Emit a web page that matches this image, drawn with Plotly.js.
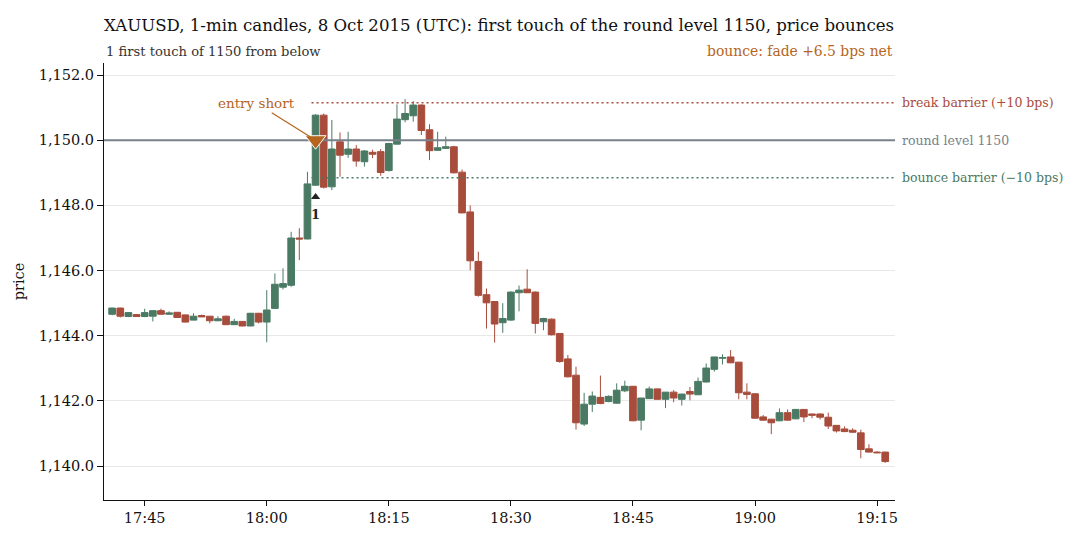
<!DOCTYPE html>
<html>
<head>
<meta charset="utf-8">
<script src="https://cdn.plot.ly/plotly-3.0.1.min.js"></script>
<style>
  html, body { margin: 0; padding: 0; background: #fff; }
  #chart { width: 1080px; height: 540px; }
</style>
</head>
<body>
<div id="chart"></div>
<script>
// 1-min candles, 8 Oct 2015
const day = '2015-10-08 ';
const times = [
  '17:41','17:42','17:43','17:44','17:45','17:46','17:47','17:48','17:49','17:50',
  '17:51','17:52','17:53','17:54','17:55','17:56','17:57','17:58','17:59','18:00',
  '18:01','18:02','18:03','18:04','18:05','18:06','18:07','18:08','18:09','18:10',
  '18:11','18:12','18:13','18:14','18:15','18:16','18:17','18:18','18:19','18:20',
  '18:21','18:22','18:23','18:24','18:25','18:26','18:27','18:28','18:29','18:30',
  '18:31','18:32','18:33','18:34','18:35','18:36','18:37','18:38','18:39','18:40',
  '18:41','18:42','18:43','18:44','18:45','18:46','18:47','18:48','18:49','18:50',
  '18:51','18:52','18:53','18:54','18:55','18:56','18:57','18:58','18:59','19:00',
  '19:01','19:02','19:03','19:04','19:05','19:06','19:07','19:08','19:09','19:10',
  '19:11','19:12','19:13','19:14','19:15','19:16'
];
const open = [
  1144.66,1144.85,1144.59,1144.65,1144.59,1144.60,1144.77,1144.66,1144.72,1144.64,
  1144.48,1144.62,1144.60,1144.46,1144.60,1144.34,1144.44,1144.30,1144.69,1144.42,
  1144.84,1145.49,1145.55,1147.00,1146.97,1148.62,1150.77,1148.57,1149.95,1149.57,
  1149.73,1149.34,1149.63,1149.65,1149.07,1149.88,1150.63,1150.75,1151.08,1150.32,
  1149.69,1149.75,1149.80,1149.02,1147.80,1146.28,1145.26,1145.05,1144.40,1144.48,
  1145.32,1145.43,1145.34,1144.43,1144.51,1144.07,1143.29,1142.79,1141.29,1141.90,
  1142.11,1141.98,1141.93,1142.31,1142.45,1141.41,1142.07,1142.37,1142.05,1142.27,
  1142.05,1142.29,1142.19,1142.58,1142.97,1143.31,1143.35,1143.19,1142.27,1142.22,
  1141.51,1141.44,1141.39,1141.64,1141.45,1141.74,1141.60,1141.60,1141.50,1141.25,
  1141.14,1141.10,1141.02,1140.53,1140.43,1140.43
];
const high = [
  1144.86,1144.86,1144.72,1144.67,1144.83,1144.78,1144.83,1144.75,1144.73,1144.65,
  1144.69,1144.65,1144.61,1144.60,1144.62,1144.52,1144.45,1144.70,1144.70,1145.40,
  1145.91,1146.07,1147.19,1147.30,1149.03,1150.80,1150.82,1150.62,1150.24,1150.26,
  1149.85,1149.70,1149.71,1149.73,1149.92,1151.10,1151.26,1151.20,1151.10,1150.49,
  1150.26,1150.11,1149.83,1149.10,1148.00,1146.58,1145.45,1145.06,1145.00,1145.36,
  1145.54,1146.04,1145.36,1144.55,1144.53,1144.08,1143.41,1143.05,1142.25,1142.29,
  1142.78,1142.17,1142.54,1142.62,1142.46,1142.09,1142.44,1142.38,1142.27,1142.33,
  1142.22,1142.43,1142.72,1143.15,1143.35,1143.43,1143.56,1143.20,1142.54,1142.23,
  1141.57,1141.45,1141.77,1141.74,1141.75,1141.75,1141.61,1141.61,1141.64,1141.26,
  1141.22,1141.16,1141.12,1140.67,1140.46,1140.44
];
const low = [
  1144.63,1144.56,1144.57,1144.58,1144.57,1144.44,1144.65,1144.64,1144.55,1144.41,
  1144.47,1144.57,1144.38,1144.45,1144.33,1144.33,1144.29,1144.29,1144.38,1143.80,
  1144.83,1145.42,1145.50,1146.32,1146.96,1148.60,1148.52,1148.47,1148.88,1149.46,
  1149.19,1149.19,1149.45,1148.91,1149.04,1149.87,1150.55,1150.57,1150.16,1149.39,
  1149.67,1149.73,1148.98,1147.76,1146.01,1145.20,1144.22,1143.79,1144.09,1144.46,
  1144.75,1145.31,1144.07,1144.17,1144.01,1143.17,1142.72,1141.12,1141.23,1141.66,
  1141.90,1141.96,1141.92,1142.27,1141.38,1141.10,1142.06,1142.04,1141.78,1141.96,
  1141.86,1142.02,1142.18,1142.57,1142.90,1143.12,1143.16,1142.05,1142.05,1141.46,
  1141.40,1140.98,1141.38,1141.40,1141.44,1141.35,1141.47,1141.43,1141.14,1141.03,
  1141.04,1141.02,1140.24,1140.42,1140.40,1140.10
];
const close = [
  1144.85,1144.60,1144.71,1144.59,1144.71,1144.77,1144.66,1144.70,1144.56,1144.42,
  1144.60,1144.58,1144.46,1144.52,1144.34,1144.44,1144.30,1144.69,1144.42,1144.79,
  1145.58,1145.60,1147.00,1146.97,1148.66,1150.77,1148.56,1149.73,1149.54,1149.73,
  1149.36,1149.67,1149.57,1149.01,1149.90,1150.65,1150.82,1151.08,1150.30,1149.68,
  1149.77,1149.80,1149.00,1147.77,1146.30,1145.24,1145.01,1144.36,1144.53,1145.34,
  1145.40,1145.32,1144.38,1144.53,1144.03,1143.21,1142.74,1141.33,1141.90,1142.15,
  1141.92,1142.14,1142.33,1142.45,1141.39,1142.09,1142.37,1142.05,1142.27,1142.09,
  1142.21,1142.21,1142.60,1143.01,1143.35,1143.33,1143.17,1142.25,1142.20,1141.47,
  1141.41,1141.33,1141.64,1141.41,1141.74,1141.51,1141.56,1141.50,1141.23,1141.08,
  1141.06,1141.04,1140.51,1140.43,1140.41,1140.14
];

// the event
const roundLevel = 1150;
const barrierBps = 10;
const touchTime = '18:06';
const touchMarkY = 1148.26;
const barrierStart = '18:05:30';
const xStart = '17:40:00';
const xEnd = '19:17:12';

const GREEN = '#4a7a64';
const RED = '#a84c3c';
const GREY = '#78818a';
const ORANGE = '#b5651d';
const FONT = 'DejaVu Serif, serif';

const breakLevel = roundLevel * (1 + barrierBps / 10000);
const bounceLevel = roundLevel * (1 - barrierBps / 10000);
const x = times.map(t => day + t);

const candles = {
  type: 'candlestick',
  x: x, open: open, high: high, low: low, close: close,
  increasing: { line: { color: GREEN, width: 1 }, fillcolor: GREEN },
  decreasing: { line: { color: RED, width: 1 }, fillcolor: RED },
  whiskerwidth: 0,
  hoverinfo: 'skip',
  showlegend: false
};

// round level over the candles, under the entry marker
const roundLine = {
  type: 'scatter', mode: 'lines',
  x: [day + xStart, day + xEnd], y: [roundLevel, roundLevel],
  line: { color: GREY, width: 1.8 },
  hoverinfo: 'skip', showlegend: false
};

const entry = {
  type: 'scatter', mode: 'markers',
  x: [day + touchTime], y: [roundLevel],
  marker: { symbol: 'triangle-down', size: 18, color: ORANGE, line: { color: '#fff', width: 1 } },
  hoverinfo: 'skip', showlegend: false
};

const touchMark = {
  type: 'scatter', mode: 'markers',
  x: [day + touchTime], y: [touchMarkY],
  marker: { symbol: 'triangle-up', size: 8, color: '#222' },
  hoverinfo: 'skip', showlegend: false
};

const layout = {
  width: 1080, height: 540,
  margin: { l: 104, r: 185, t: 63, b: 40 },
  paper_bgcolor: '#fff', plot_bgcolor: '#fff',
  font: { family: FONT, size: 14, color: '#222' },
  boxgap: 0.18,
  boxgroupgap: 0,
  title: {
    text: 'XAUUSD, 1-min candles, 8 Oct 2015 (UTC): first touch of the round level 1150, price bounces',
    font: { family: FONT, size: 16.6, color: '#111' },
    x: 0, xref: 'paper', xanchor: 'left',
    y: 0.953, yanchor: 'middle'
  },
  xaxis: {
    type: 'date',
    range: [day + xStart, day + xEnd],
    rangeslider: { visible: false },
    showgrid: false, zeroline: false,
    showline: true, linecolor: '#111', linewidth: 1,
    ticks: 'outside', ticklen: 5, tickcolor: '#111',
    tickformat: '%H:%M', dtick: 15 * 60 * 1000,
    tick0: day + '17:45',
    tickfont: { family: FONT, size: 14.5, color: '#111' }
  },
  yaxis: {
    range: [1138.96, 1152.37],
    dtick: 2, tickformat: ',.1f',
    showgrid: true, gridcolor: '#e8e8e8', gridwidth: 1,
    zeroline: false,
    showline: true, linecolor: '#111', linewidth: 1,
    ticks: 'outside', ticklen: 6, tickcolor: '#111',
    tickfont: { family: FONT, size: 14.5, color: '#111' },
    title: { text: 'price', font: { family: FONT, size: 14.5, color: '#111' }, standoff: 10 }
  },
  shapes: [
    { type: 'line', xref: 'x', yref: 'y', x0: day + barrierStart, x1: day + xEnd, y0: breakLevel, y1: breakLevel,
      line: { color: RED, width: 1.5, dash: '2px,3px' } },
    { type: 'line', xref: 'x', yref: 'y', x0: day + barrierStart, x1: day + xEnd, y0: bounceLevel, y1: bounceLevel,
      line: { color: GREEN, width: 1.5, dash: '2px,3px' } }
  ],
  annotations: [
    { xref: 'paper', yref: 'paper', x: 0, y: 1.027, xanchor: 'left', yanchor: 'middle',
      text: '1 first touch of 1150 from below', showarrow: false,
      font: { family: FONT, size: 13.1, color: '#333' } },
    { xref: 'paper', yref: 'paper', x: 1, y: 1.027, xanchor: 'right', yanchor: 'middle',
      text: 'bounce: fade +6.5 bps net', showarrow: false,
      font: { family: FONT, size: 13.9, color: ORANGE } },
    { xref: 'paper', yref: 'y', x: 1, y: breakLevel, xanchor: 'left', yanchor: 'middle', xshift: 5,
      text: 'break barrier (+10 bps)', showarrow: false,
      font: { family: FONT, size: 12.5, color: RED } },
    { xref: 'paper', yref: 'y', x: 1, y: roundLevel, xanchor: 'left', yanchor: 'middle', xshift: 5,
      text: 'round level 1150', showarrow: false,
      font: { family: FONT, size: 12.5, color: GREY } },
    { xref: 'paper', yref: 'y', x: 1, y: bounceLevel, xanchor: 'left', yanchor: 'middle', xshift: 5,
      text: 'bounce barrier (\u221210 bps)', showarrow: false,
      font: { family: FONT, size: 12.5, color: GREEN } },
    { xref: 'x', yref: 'y', x: day + touchTime, y: roundLevel,
      text: 'entry short', showarrow: true, ax: -59, ay: -37,
      arrowhead: 0, arrowwidth: 1.2, arrowcolor: ORANGE, standoff: 6,
      font: { family: FONT, size: 13.5, color: ORANGE } },
    { xref: 'x', yref: 'y', x: day + touchTime, y: touchMarkY, yshift: -18,
      text: '<b>1</b>', showarrow: false,
      font: { family: FONT, size: 13, color: '#222' } }
  ]
};

Plotly.newPlot('chart', [candles, roundLine, entry, touchMark], layout, { staticPlot: true, displayModeBar: false });
</script>
</body>
</html>
